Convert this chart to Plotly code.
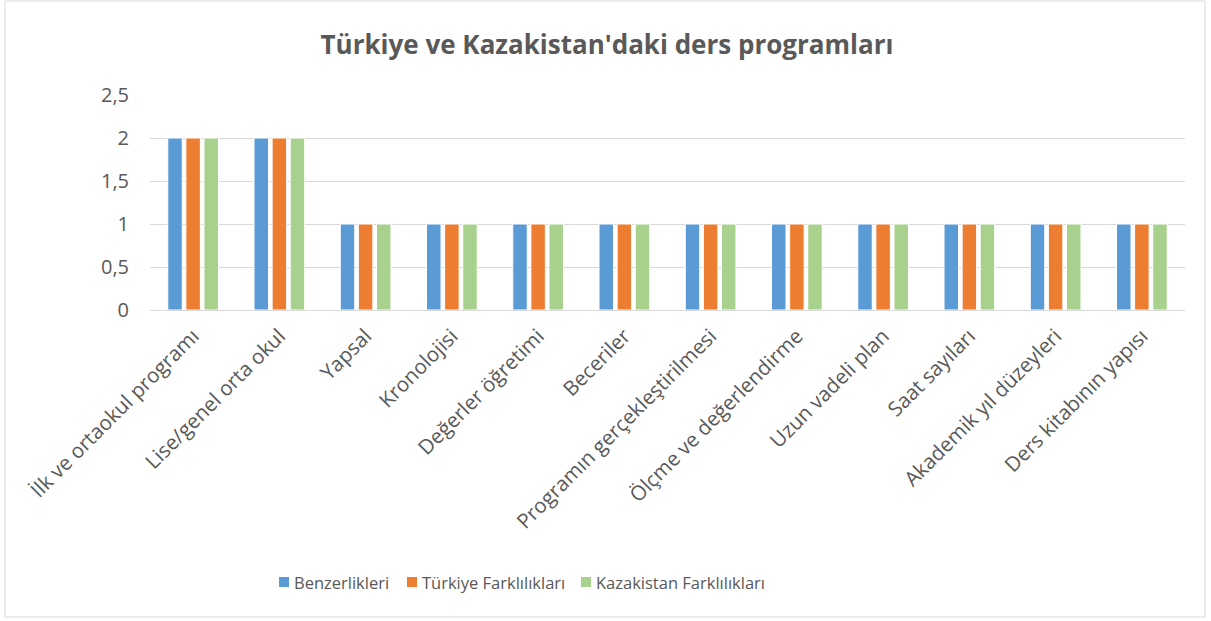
import plotly.graph_objects as go

categories = ["İlk ve ortaokul programı", "Lise/genel orta okul", "Yapsal", "Kronolojisi",
              "Değerler öğretimi", "Beceriler", "Programın gerçekleştirilmesi",
              "Ölçme ve değerlendirme", "Uzun vadeli plan", "Saat sayıları",
              "Akademik yıl düzeyleri", "Ders kitabının yapısı"]
benzerlikleri = [2, 2, 1, 1, 1, 1, 1, 1, 1, 1, 1, 1]
turkiye = [2, 2, 1, 1, 1, 1, 1, 1, 1, 1, 1, 1]
kazakistan = [2, 2, 1, 1, 1, 1, 1, 1, 1, 1, 1, 1]

series_names = ["Benzerlikleri", "Türkiye Farklılıkları", "Kazakistan Farklılıkları"]
series_values = [benzerlikleri, turkiye, kazakistan]
series_colors = ["#5b9bd5", "#ed7d31", "#a9d18e"]

FONT = "Open Sans"
TXT = "#595959"
fig = go.Figure()
for name, vals, col in zip(series_names, series_values, series_colors):
    fig.add_trace(go.Bar(x=categories, y=vals, name=name, marker_color=col,
                         marker_line_color="white", marker_line_width=1,
                         showlegend=False))

L, R, T, B = 150, 26, 95, 311
W, H = 1211, 621
pw, ph = W - L - R, H - T - B

def px(x):
    return (x - L) / pw

def py(y):
    return (H - B - y) / ph

shapes = [dict(type="rect", xref="paper", yref="paper",
               x0=px(5), x1=px(1205), y0=py(617), y1=py(1),
               line=dict(color="#d9d9d9", width=1), fillcolor="rgba(0,0,0,0)",
               layer="below")]
annotations = []
legend_x = [279, 407, 581]
for lx, name, col in zip(legend_x, series_names, series_colors):
    shapes.append(dict(type="rect", xref="paper", yref="paper",
                       x0=px(lx), x1=px(lx + 10), y0=py(587), y1=py(577),
                       line=dict(width=0), fillcolor=col))
    annotations.append(dict(xref="paper", yref="paper", x=px(lx + 13), y=py(582),
                            xanchor="left", yanchor="middle", showarrow=False,
                            text=name, font=dict(family=FONT, size=16.5, color=TXT)))

fig.update_layout(
    width=W, height=H,
    margin=dict(l=L, r=R, t=T, b=B, autoexpand=False),
    paper_bgcolor="white", plot_bgcolor="white",
    separators=",.",
    barmode="group", bargap=0.37, bargroupgap=0.2,
    font=dict(family=FONT, color=TXT, size=16),
    title=dict(text="<b>Türkiye ve Kazakistan'daki ders programları</b>",
               x=px(607), xanchor="center", xref="paper", y=1 - 45 / H, yanchor="middle",
               font=dict(family=FONT, size=26, color=TXT)),
    showlegend=False,
    xaxis=dict(tickangle=-45, showgrid=False, showline=True, linecolor="#d9d9d9",
               linewidth=1, ticks="", automargin=False, ticklabelstandoff=5,
               tickfont=dict(size=20.5, color=TXT)),
    yaxis=dict(range=[0, 2.5], dtick=0.5, showgrid=True, gridcolor="#d9d9d9",
               gridwidth=1, zeroline=False, showline=False, ticks="",
               ticklabelstandoff=20, automargin=False,
               tickfont=dict(size=20, color=TXT)),
    shapes=shapes,
    annotations=annotations,
)
fig.write_html("out.html")
